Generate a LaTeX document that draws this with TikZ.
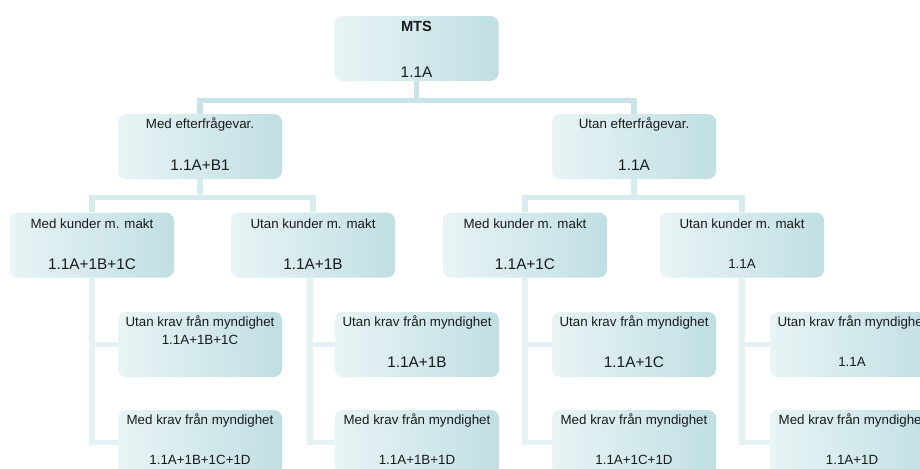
\documentclass[tikz,border=0pt]{standalone}
\usepackage{fontspec}
\setmainfont{Liberation Sans}
\usetikzlibrary{calc}

\definecolor{boxlight}{HTML}{E8F4F5}
\definecolor{boxdark}{HTML}{C0DFE3}
\definecolor{linkdark}{HTML}{C9E4E8}
\definecolor{linkmid}{HTML}{D6ECEF}
\definecolor{linklight}{HTML}{E4F2F4}
\definecolor{txt}{HTML}{1A1A1A}

\tikzset{
  cardbox/.style={rounded corners=6pt, minimum width=123pt, minimum height=48.75pt,
    inner sep=0pt, left color=boxlight, right color=boxdark, draw=none},
  ttl/.style={font=\fontsize{10pt}{12pt}\selectfont, text=txt, inner sep=0pt, anchor=center},
  val/.style={font=\fontsize{11.5pt}{13pt}\selectfont, text=txt, inner sep=0pt, anchor=center},
  link/.style={line width=4pt},
}

\begin{document}
\begin{tikzpicture}[x=0.75pt, y=-0.75pt]
\useasboundingbox (0,0) rectangle (920,468);
\clip (0,0) rectangle (920,468);
\fill[white] (0,0) rectangle (920,468);

% boxes
\node[cardbox] (mts) at (416.5,48.5) {};
\node[cardbox] (efa) at (200,146.5) {};
\node[cardbox] (efb) at (634,146.5) {};
\node[cardbox] (ka) at (92,245) {};
\node[cardbox] (kb) at (313,245) {};
\node[cardbox] (kc) at (525,245) {};
\node[cardbox] (kd) at (742,245) {};
\node[cardbox] (ua) at (200,344.5) {};
\node[cardbox] (ma) at (200,442.5) {};
\node[cardbox] (ub) at (417,344.5) {};
\node[cardbox] (mb) at (417,442.5) {};
\node[cardbox] (uc) at (634,344.5) {};
\node[cardbox] (mc) at (634,442.5) {};
\node[cardbox] (ud) at (852,344.5) {};
\node[cardbox] (md) at (852,442.5) {};

% connectors
\draw[link, draw=linkdark] (mts.south) -- ($(mts.south)+(0,19)$) coordinate (j0) -| (efa.north);
\draw[link, draw=linkdark] (j0) -| (efb.north);
\draw[link, draw=linkmid] (efa.south) -- ($(efa.south)+(0,18.5)$) coordinate (j1) -| (ka.north);
\draw[link, draw=linkmid] (j1) -| (kb.north);
\draw[link, draw=linkmid] (efb.south) -- ($(efb.south)+(0,18.5)$) coordinate (j2) -| (kc.north);
\draw[link, draw=linkmid] (j2) -| (kd.north);
\draw[link, draw=linklight] (ka.south) |- (ua.west);
\draw[link, draw=linklight] (ka.south) |- (ma.west);
\draw[link, draw=linklight] ($(kb.south)+(-3,0)$) coordinate (kbs) |- (ub.west);
\draw[link, draw=linklight] (kbs) |- (mb.west);
\draw[link, draw=linklight] (kc.south) |- (uc.west);
\draw[link, draw=linklight] (kc.south) |- (mc.west);
\draw[link, draw=linklight] (kd.south) |- (ud.west);
\draw[link, draw=linklight] (kd.south) |- (md.west);

% texts
\node[ttl, font=\bfseries\fontsize{11pt}{13pt}\selectfont] (mts-t) at ($(mts.north)+(0,11)$) {MTS};
\node[val] (mts-v) at ($(mts.south)+(0,-9)$) {1.1A};

\node[ttl] (efa-t) at ($(efa.north)+(0,11)$) {Med efterfrågevar.};
\node[val] (efa-v) at ($(efa.south)+(0,-14)$) {1.1A+B1};
\node[ttl] (efb-t) at ($(efb.north)+(0,11)$) {Utan efterfrågevar.};
\node[val] (efb-v) at ($(efb.south)+(0,-14)$) {1.1A};

\node[ttl] (ka-t) at ($(ka.north)+(0,11)$) {Med kunder m. makt};
\node[val] (ka-v) at ($(ka.south)+(0,-14)$) {1.1A+1B+1C};
\node[ttl] (kb-t) at ($(kb.north)+(0,11)$) {Utan kunder m. makt};
\node[val] (kb-v) at ($(kb.south)+(0,-14)$) {1.1A+1B};
\node[ttl] (kc-t) at ($(kc.north)+(0,11)$) {Med kunder m. makt};
\node[val] (kc-v) at ($(kc.south)+(0,-14)$) {1.1A+1C};
\node[ttl] (kd-t) at ($(kd.north)+(0,11)$) {Utan kunder m. makt};
\node[ttl] (kd-v) at ($(kd.south)+(0,-14)$) {1.1A};

\node[ttl] (ua-t) at ($(ua.north)+(0,10.5)$) {Utan krav från myndighet};
\node[ttl] (ua-v) at ($(ua.north)+(0,28)$) {1.1A+1B+1C};
\node[ttl] (ma-t) at ($(ma.north)+(0,10.5)$) {Med krav från myndighet};
\node[ttl] (ma-v) at ($(ma.north)+(0,50)$) {1.1A+1B+1C+1D};

\node[ttl] (ub-t) at ($(ub.north)+(0,10.5)$) {Utan krav från myndighet};
\node[val] (ub-v) at ($(ub.north)+(0,50)$) {1.1A+1B};
\node[ttl] (mb-t) at ($(mb.north)+(0,10.5)$) {Med krav från myndighet};
\node[ttl] (mb-v) at ($(mb.north)+(0,50)$) {1.1A+1B+1D};

\node[ttl] (uc-t) at ($(uc.north)+(0,10.5)$) {Utan krav från myndighet};
\node[val] (uc-v) at ($(uc.north)+(0,50)$) {1.1A+1C};
\node[ttl] (mc-t) at ($(mc.north)+(0,10.5)$) {Med krav från myndighet};
\node[ttl] (mc-v) at ($(mc.north)+(0,50)$) {1.1A+1C+1D};

\node[ttl] (ud-t) at ($(ud.north)+(0,10.5)$) {Utan krav från myndighet};
\node[ttl] (ud-v) at ($(ud.north)+(0,50)$) {1.1A};
\node[ttl] (md-t) at ($(md.north)+(0,10.5)$) {Med krav från myndighet};
\node[ttl] (md-v) at ($(md.north)+(0,50)$) {1.1A+1D};
\end{tikzpicture}
\end{document}
